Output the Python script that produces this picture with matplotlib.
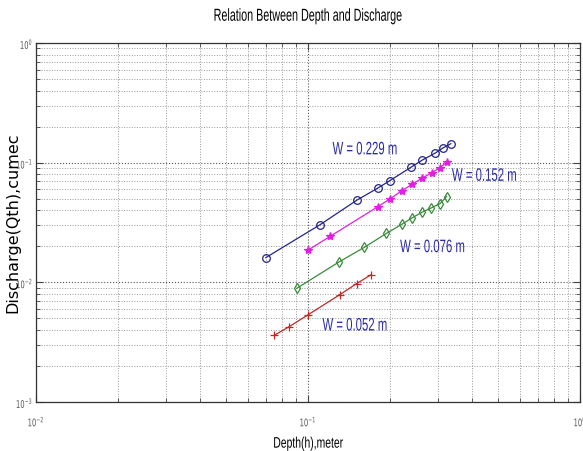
import matplotlib
matplotlib.use('Agg')
import matplotlib.pyplot as plt
from matplotlib.patheffects import AbstractPathEffect
from matplotlib.transforms import Affine2D
from matplotlib.ticker import LogLocator, NullFormatter, FixedLocator

# depth (m) and discharge (cumec), one pair of lists per weir width
h_229 = [0.070, 0.111, 0.151, 0.181, 0.200, 0.240, 0.263, 0.293, 0.314, 0.335]
q_229 = [0.0161, 0.0304, 0.0485, 0.0615, 0.0708, 0.0920, 0.105, 0.120, 0.133, 0.144]

h_152 = [0.0997, 0.1205, 0.181, 0.201, 0.221, 0.242, 0.263, 0.285, 0.306, 0.323]
q_152 = [0.0185, 0.0242, 0.0430, 0.0501, 0.0582, 0.0662, 0.0743, 0.0825, 0.0908, 0.1006]

h_076 = [0.0909, 0.130, 0.161, 0.194, 0.2215, 0.241, 0.2625, 0.284, 0.306, 0.323]
q_076 = [0.00891, 0.0148, 0.0196, 0.0256, 0.0306, 0.0345, 0.0385, 0.0419, 0.0455, 0.0521]

h_052 = [0.0753, 0.0854, 0.0997, 0.1307, 0.151, 0.1708]
q_052 = [0.00362, 0.00427, 0.00533, 0.00787, 0.00977, 0.0116]

labels = ['W = 0.229 m', 'W = 0.152 m', 'W = 0.076 m', 'W = 0.052 m']
label_pos = [(0.162, 0.128, 'center'), (0.338, 0.0769, 'left'),
             (0.218, 0.0195, 'left'), (0.113, 0.00432, 'left')]


class Squeeze(AbstractPathEffect):
    """Draw text narrower than the font (the source picture is squashed sideways)."""

    def __init__(self, sx, frac=0.5):
        super().__init__()
        self.sx = sx
        self.frac = frac  # 0 = keep left edge, 0.5 = keep centre, 1 = keep right edge

    def draw_path(self, renderer, gc, tpath, affine, rgbFace=None):
        ext = tpath.get_extents()
        px = ext.x0 + self.frac * (ext.x1 - ext.x0)
        squash = Affine2D().translate(-px, 0).scale(self.sx, 1).translate(px, 0)
        renderer.draw_path(gc, tpath, squash + affine, rgbFace)


font = 'Liberation Sans'

fig = plt.figure(figsize=(5.83, 4.51), dpi=100)
ax = fig.add_axes([0.0617, 0.1086, 0.9332, 0.7961])

ax.loglog(h_229, q_229, '-o', color='#24248a', lw=0.9, ms=5.5, mfc='none', mew=0.9)
ax.loglog(h_152, q_152, '-*', color='#e020e0', lw=0.9, ms=6, mew=0.9)
ax.loglog(h_076, q_076, '-d', color='#3a8a3a', lw=0.9, ms=5.5, mfc='none', mew=0.9)
ax.loglog(h_052, q_052, '-+', color='#c02828', lw=0.9, ms=6, mew=0.9)

for text, (x, y, ha) in zip(labels, label_pos):
    frac = 0.5 if ha == 'center' else 0.0
    ax.text(x, y, text, color='#2a2aa8', fontsize=13, ha=ha, va='center',
            family=font, path_effects=[Squeeze(0.63, frac)])

ax.set_xlim(1e-2, 1e0)
ax.set_ylim(1e-3, 1e0)

ax.xaxis.set_major_locator(FixedLocator([1e-2, 1e-1, 1e0]))
ax.yaxis.set_major_locator(FixedLocator([1e-3, 1e-2, 1e-1, 1e0]))
ax.xaxis.set_minor_locator(LogLocator(base=10, subs=range(2, 10)))
ax.yaxis.set_minor_locator(LogLocator(base=10, subs=range(2, 10)))
ax.xaxis.set_minor_formatter(NullFormatter())
ax.yaxis.set_minor_formatter(NullFormatter())
ax.set_xticklabels([r'$10^{-2}$', r'$10^{-1}$', r'$10^{0}$'])
ax.set_yticklabels([r'$10^{-3}$', r'$10^{-2}$', r'$10^{-1}$', r'$10^{0}$'])

ax.tick_params(which='both', direction='in', top=True, right=True,
               labelsize=7.5, labelcolor='#555555', color='#444444')
ax.tick_params(which='major', length=5)
ax.tick_params(which='minor', length=3)
ax.tick_params(axis='x', pad=9)
ax.tick_params(axis='y', pad=2)
for lab in ax.get_xticklabels():
    lab.set_path_effects([Squeeze(0.65, 0.5)])
for lab in ax.get_yticklabels():
    lab.set_path_effects([Squeeze(0.65, 1.0)])

ax.grid(True, which='major', ls=':', color='#555555', lw=0.8)
ax.grid(True, which='minor', ls=':', color='#999999', lw=0.7)

for side in ax.spines.values():
    side.set_color('#333333')
    side.set_linewidth(0.9)

ax.set_title('Relation Between Depth and Discharge', fontsize=12.5, family=font,
             pad=16, path_effects=[Squeeze(0.62, 0.5)])
ax.set_xlabel('Depth(h),meter', fontsize=11, family=font, labelpad=6,
              path_effects=[Squeeze(0.68, 0.5)])
ax.set_ylabel('Discharge(Qth),cumec', fontsize=11.5, family='DejaVu Sans')
ax.yaxis.set_label_coords(-0.029, 0.5)

fig.savefig('out.png', dpi=100)
